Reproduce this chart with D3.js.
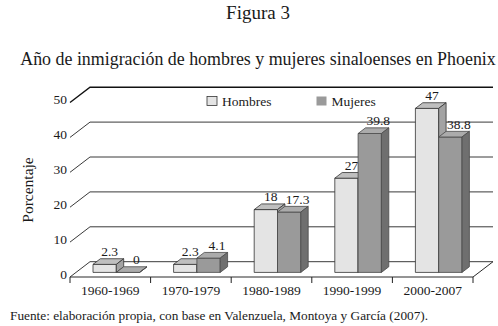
<!DOCTYPE html>
<html>
<head>
<meta charset="utf-8">
<script src="https://cdn.jsdelivr.net/npm/d3@7"></script>
<style>
  body { margin: 0; background: #fff; }
  svg { display: block; }
  text { font-family: "Liberation Serif", "Times New Roman", serif; fill: #1a1a1a; }
</style>
</head>
<body>
<svg id="chart" width="498" height="326"></svg>
<script>
// data
var periods = ["1960-1969", "1970-1979", "1980-1989", "1990-1999", "2000-2007"];
var series = ["Hombres", "Mujeres"];
var hombres = [2.3, 2.3, 18, 27, 47];
var mujeres = [0, 4.1, 17.3, 39.8, 38.8];
var yTicks = [0, 10, 20, 30, 40, 50];

var svg = d3.select("#chart");

// fake 3d: depth vector of the back wall
var DX = 20, DY = 15.3;
var x = d3.scaleBand().domain(periods).range([70, 473]);
var xs = d3.scaleBand().domain(series).range([17, 17 + 46.6]);
var y = d3.scaleLinear().domain([0, 50]).range([277, 102.5]);

function P(px, v, z) { return [px + z * DX, y(v) - z * DY]; }

var faces = {
  Hombres: { front: "#e4e4e4", top: "#bfbfbf", side: "#a3a3a3", stroke: "#333", lab: 11 },
  Mujeres: { front: "#9a9a9a", top: "#ababab", side: "#6f6f6f", stroke: "#4a4a4a", lab: 14.5 }
};

// walls / grid
var x0 = x.range()[0], x1 = x.range()[1];
var grid = svg.append("g").attr("fill", "none");
yTicks.forEach(function(t){
  var a = P(x0, t, 0), b = P(x0, t, 1), c = P(x1, t, 1);
  grid.append("path")
    .attr("d", "M" + a + "L" + b + "L" + c)
    .attr("stroke", t == 50 ? "#111" : "#3a3a3a")
    .attr("stroke-width", t == 50 ? 1.4 : 1);
});
// floor front + right edge
grid.append("path")
  .attr("d", "M" + P(x0, 0, 0) + "L" + P(x1, 0, 0) + "L" + P(x1, 0, 1))
  .attr("stroke", "#2a2a2a").attr("stroke-width", 1);

// category ticks
var bounds = periods.map(function(p){ return x(p); }).concat([x1]);
svg.append("g").selectAll("line").data(bounds).enter().append("line")
  .attr("x1", function(d){ return d; }).attr("x2", function(d){ return d; })
  .attr("y1", y(0)).attr("y2", y(0) + 6)
  .attr("stroke", "#222");

// y tick labels
svg.append("g").selectAll("text").data(yTicks).enter().append("text")
  .attr("x", 67).attr("y", function(d){ return y(d) + 1.5; })
  .attr("text-anchor", "end").attr("font-size", 13.5)
  .text(function(d){ return d; });

// category labels
svg.append("g").selectAll("text").data(periods).enter().append("text")
  .attr("x", function(d){ return x(d) + x.bandwidth() / 2; })
  .attr("y", 294.5).attr("text-anchor", "middle").attr("font-size", 13.5)
  .text(function(d){ return d; });

// bars
var rows = [];
periods.forEach(function(p, i){
  rows.push({ period: p, s: "Hombres", v: hombres[i] });
  rows.push({ period: p, s: "Mujeres", v: mujeres[i] });
});
var z0 = 0.3, z1 = 0.67;
var bw = xs.bandwidth();

var bars = svg.append("g").selectAll("g").data(rows).enter().append("g");
bars.each(function(d){
  var g = d3.select(this), f = faces[d.s];
  var left = x(d.period) + xs(d.s);
  var fl = P(left, 0, z0), fr = P(left + bw, 0, z0),
      tl = P(left, d.v, z0), tr = P(left + bw, d.v, z0),
      btl = P(left, d.v, z1), btr = P(left + bw, d.v, z1), bbr = P(left + bw, 0, z1);
  g.append("path").attr("d", "M" + fl + "L" + fr + "L" + tr + "L" + tl + "Z")
    .attr("fill", f.front).attr("stroke", f.stroke).attr("stroke-width", 0.8);
  g.append("path").attr("d", "M" + tl + "L" + tr + "L" + btr + "L" + btl + "Z")
    .attr("fill", f.top).attr("stroke", f.stroke).attr("stroke-width", 0.8);
  g.append("path").attr("d", "M" + fr + "L" + bbr + "L" + btr + "L" + tr + "Z")
    .attr("fill", f.side).attr("stroke", f.stroke).attr("stroke-width", 0.8);
  g.append("text")
    .attr("x", left + bw / 2 + f.lab)
    .attr("y", btr[1] - 2.5)
    .attr("text-anchor", "middle").attr("font-size", 13.5)
    .text(d.v);
});

// legend
var legend = svg.append("g");
[[207, "Hombres"], [316.5, "Mujeres"]].forEach(function(l){
  legend.append("rect").attr("x", l[0]).attr("y", 96.5).attr("width", 10).attr("height", 9)
    .attr("fill", faces[l[1]].front)
    .attr("stroke", l[1] == "Hombres" ? "#333" : "none").attr("stroke-width", 0.8);
  legend.append("text").attr("x", l[0] + 15).attr("y", 105.5).attr("font-size", 13.5).text(l[1]);
});

// axis title
svg.append("text")
  .attr("transform", "translate(33,190) rotate(-90)")
  .attr("text-anchor", "middle").attr("font-size", 15.5)
  .text("Porcentaje");

// titles
svg.append("text").attr("x", 258).attr("y", 19).attr("text-anchor", "middle")
  .attr("font-size", 19).text("Figura 3");
svg.append("text").attr("x", 258).attr("y", 65).attr("text-anchor", "middle")
  .attr("font-size", 17.9).text("Año de inmigración de hombres y mujeres sinaloenses en Phoenix");

// source
svg.append("text").attr("x", 10).attr("y", 320).attr("font-size", 13.3)
  .text("Fuente: elaboración propia, con base en Valenzuela, Montoya y García (2007).");
</script>
</body>
</html>
